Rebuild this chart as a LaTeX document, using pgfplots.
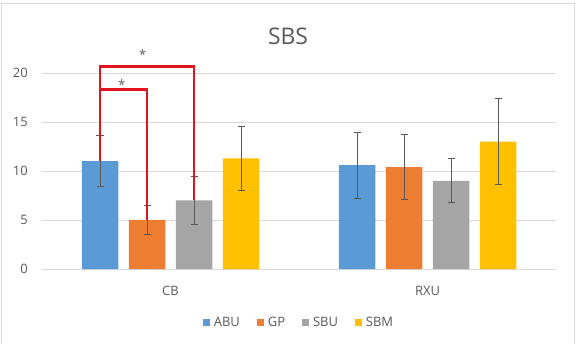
\documentclass[border=0pt]{standalone}
\usepackage{pgfplots}
\pgfplotsset{compat=1.18}
\usepackage{fontspec}
\setmainfont{Open Sans}

\definecolor{cABU}{HTML}{5B9BD5}
\definecolor{cGP}{HTML}{ED7D31}
\definecolor{cSBU}{HTML}{A5A5A5}
\definecolor{cSBM}{HTML}{FFC000}
\definecolor{txt}{HTML}{595959}
\definecolor{gridc}{HTML}{D9D9D9}
\definecolor{errc}{HTML}{595959}
\definecolor{sig}{HTML}{E0141E}

\begin{document}
\begin{tikzpicture}
\useasboundingbox (0,0) rectangle (578bp,344bp);
% chart area frame
\draw[gridc, line width=0.8bp] (1.5bp,-2bp) -- (1.5bp,340.5bp) -- (574.5bp,340.5bp) -- (574.5bp,-2bp);
% title
\node[text=txt, font=\fontsize{23}{27}\selectfont] at (288bp,308bp) {SBS};

\begin{axis}[
  at={(42bp,75bp)}, anchor=south west,
  scale only axis, width=514bp, height=196bp,
  ymin=0, ymax=20, xmin=-0.5, xmax=1.5,
  ytick={0,5,10,15,20},
  xtick={0,1}, xticklabels={CB,RXU},
  axis line style={draw=none},
  major tick length=0pt,
  ymajorgrids=true, xmajorgrids=false,
  major grid style={draw=gridc, line width=0.8bp},
  ybar=10.5bp, bar width=36.5bp,
  clip=false,
  /pgf/number format/assume math mode=true,
  ticklabel style={text=txt, font=\fontsize{13}{15}\selectfont},
  yticklabel style={anchor=east, inner sep=0pt, xshift=-14bp},
  xticklabel style={anchor=center, inner sep=0pt, yshift=-21.5bp},
  legend style={at={(0.5,-0.2755)}, anchor=center, draw=none,
    legend columns=4, text=txt, font=\fontsize{13}{15}\selectfont,
    /tikz/every even column/.append style={column sep=15bp},
    /tikz/every odd column/.append style={column sep=2bp},
    legend cell align=left},
  legend image code/.code={\fill[#1, draw=none] (0bp,-3.5bp) rectangle (7bp,3.5bp);},
  error bars/y dir=both, error bars/y explicit,
  error bars/error bar style={errc, line width=0.9bp},
  error bars/error mark options={errc, line width=0.9bp, mark size=3.5bp, rotate=90},
]
\addplot[fill=cABU, draw=none] coordinates {(0,11.0) +- (0,2.6) (1,10.6) +- (0,3.35)};
\addplot[fill=cGP, draw=none] coordinates {(0,5.0) +- (0,1.45) (1,10.4) +- (0,3.3)};
\addplot[fill=cSBU, draw=none] coordinates {(0,7.0) +- (0,2.45) (1,9.0) +- (0,2.25)};
\addplot[fill=cSBM, draw=none] coordinates {(0,11.3) +- (0,3.25) (1,13.0) +- (0,4.4)};
\legend{ABU,GP,SBU,SBM}

% significance brackets between CB groups
\draw[sig, line width=2.8bp, line join=miter]
  ([xshift=-70.5bp]axis cs:0,11.0) -- ([xshift=-70.5bp]axis cs:0,20.7)
  -- ([xshift=23.5bp]axis cs:0,20.7) -- ([xshift=23.5bp]axis cs:0,7.0);
\draw[sig, line width=2.8bp, line join=miter]
  ([xshift=-70.5bp]axis cs:0,18.3) -- ([xshift=-23.5bp]axis cs:0,18.3)
  -- ([xshift=-23.5bp]axis cs:0,5.0);
\node[anchor=north, inner sep=0pt, text=txt, font=\fontsize{13}{15}\selectfont]
  at ([xshift=-27.8bp]axis cs:0,22.45) {*};
\node[anchor=north, inner sep=0pt, text=txt, font=\fontsize{13}{15}\selectfont]
  at ([xshift=-48.8bp]axis cs:0,19.3) {*};
\end{axis}
\end{tikzpicture}
\end{document}
